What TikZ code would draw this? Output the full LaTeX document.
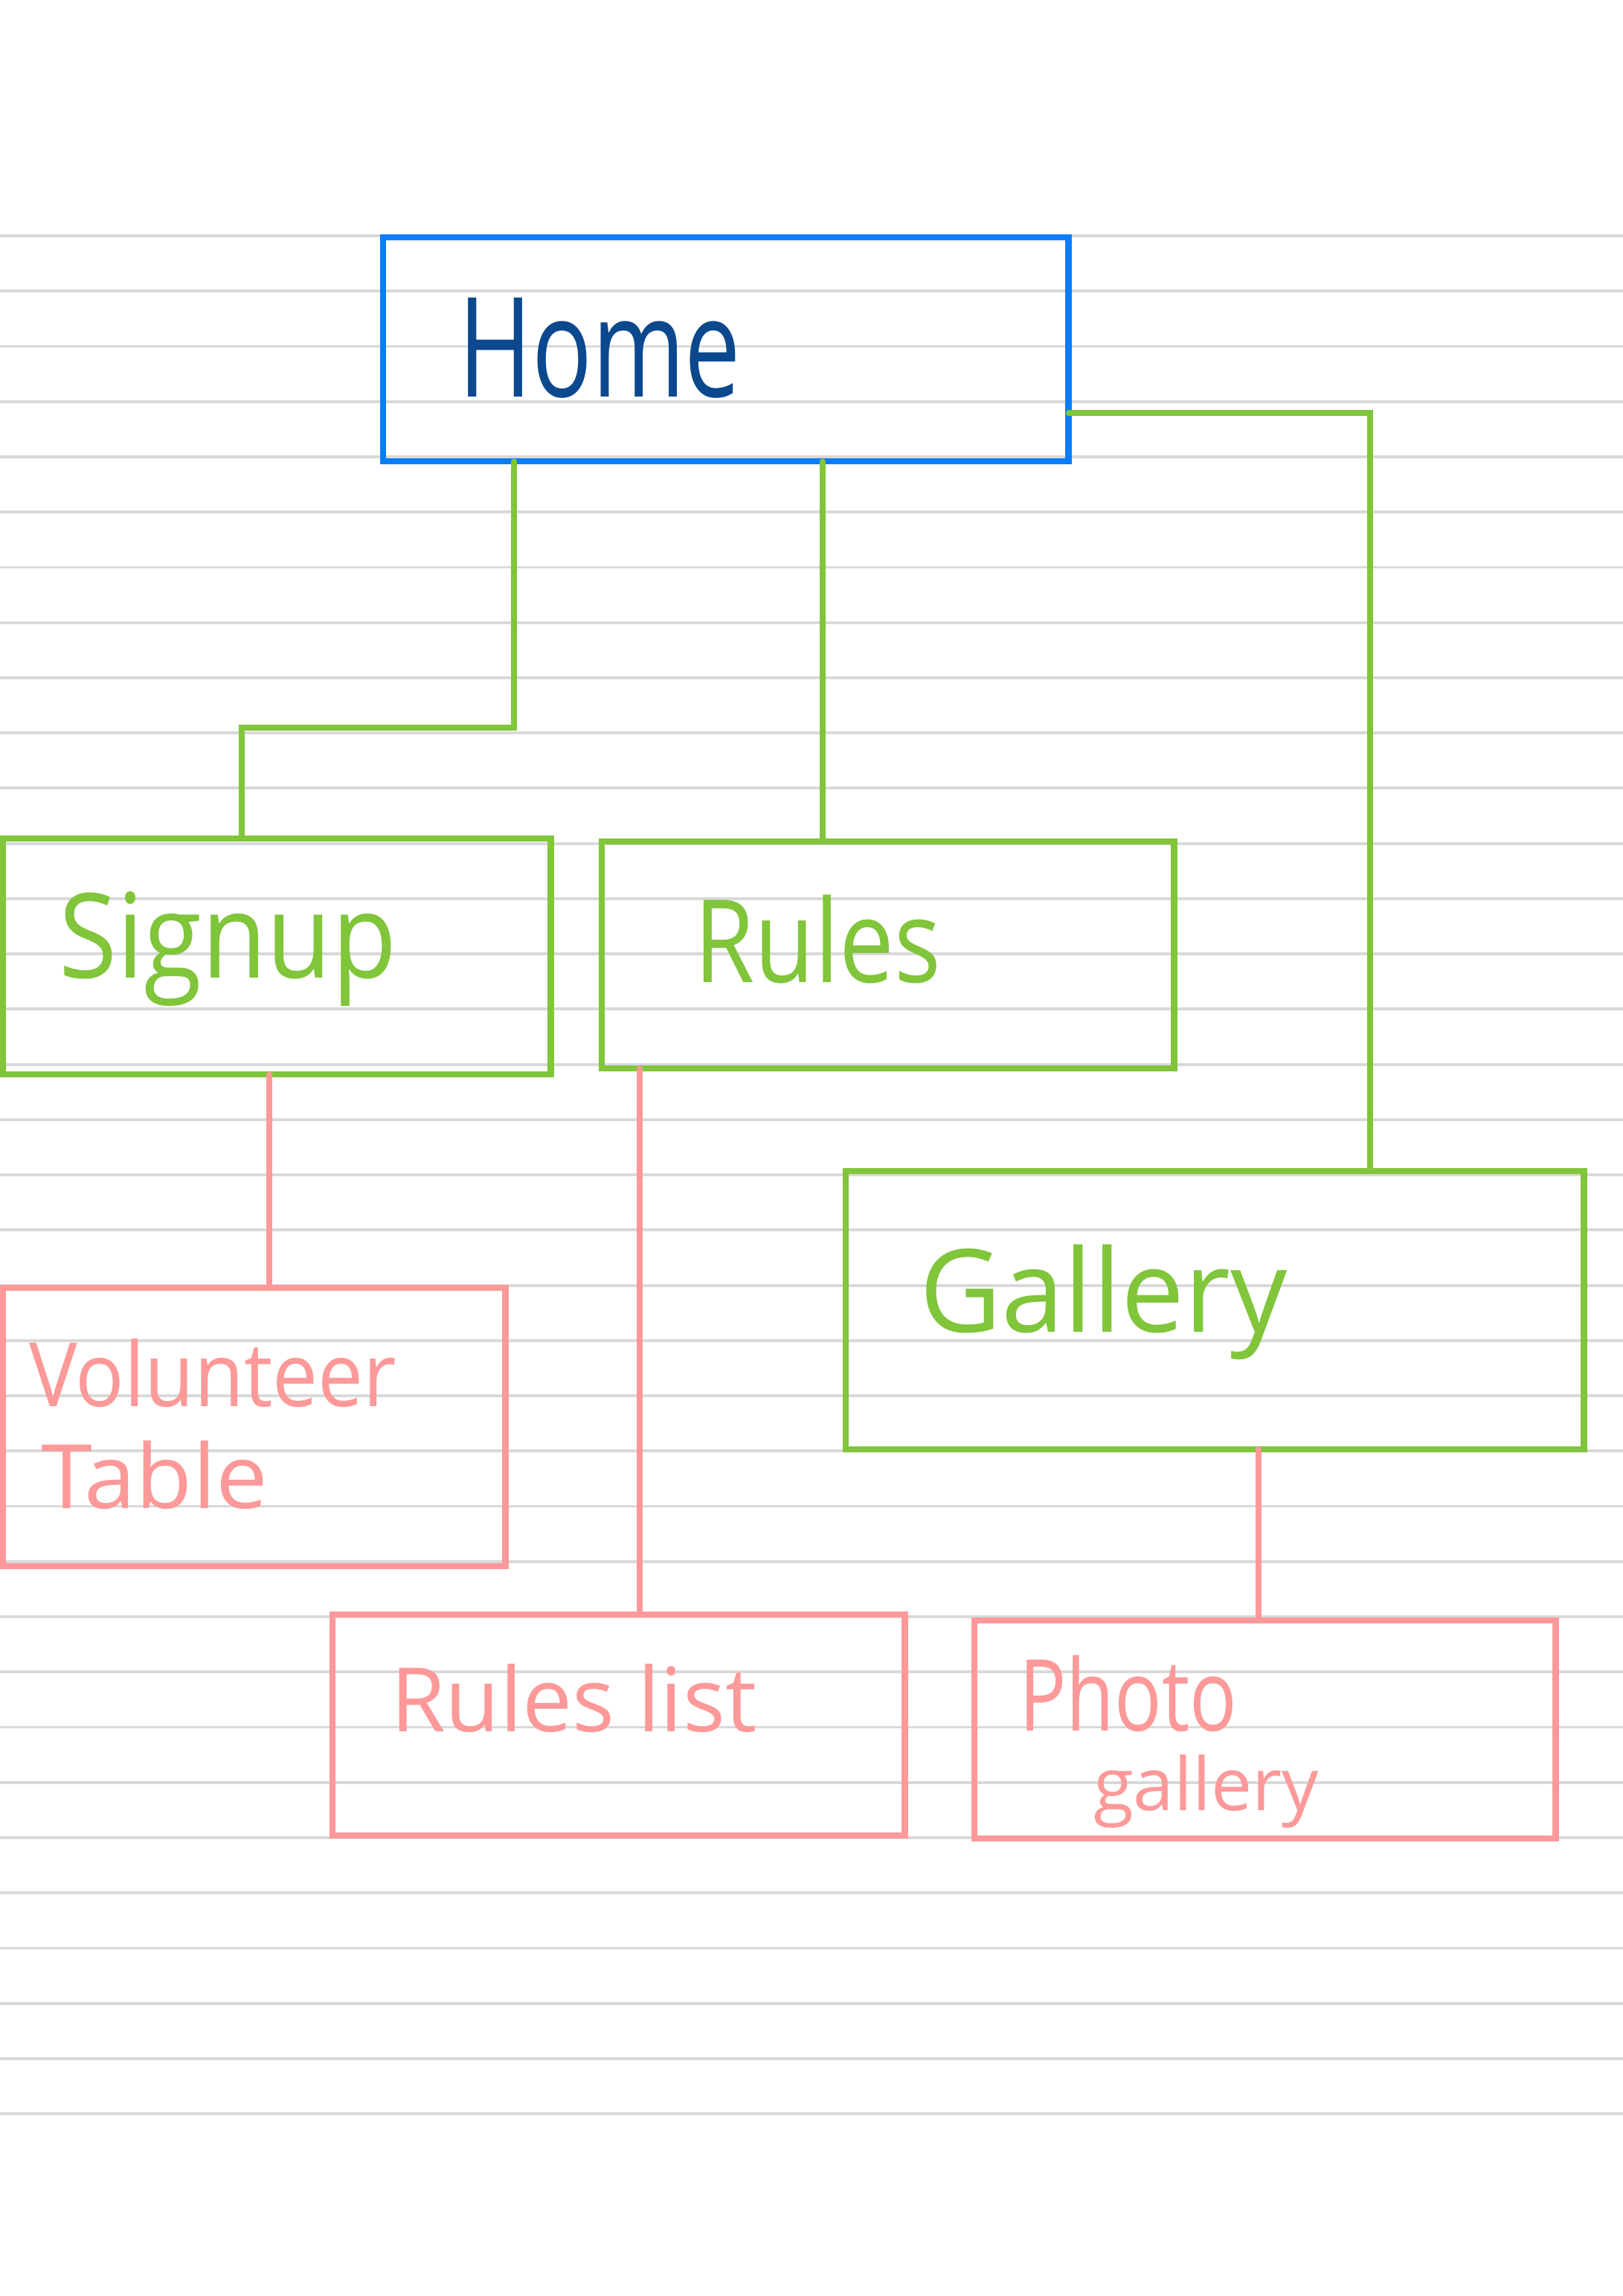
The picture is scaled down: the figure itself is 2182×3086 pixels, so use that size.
\documentclass[tikz,border=0pt]{standalone}
\usepackage{fontspec}
\setmainfont{Open Sans}
\usepackage{graphicx}
\definecolor{rule}{RGB}{217,217,217}
\definecolor{boxblue}{RGB}{10,125,250}
\definecolor{boxgreen}{RGB}{128,197,58}
\definecolor{boxpink}{RGB}{253,153,153}
\definecolor{inkblue}{RGB}{11,72,142}
\tikzset{
  pagebox/.style={draw, line width=2.4pt, inner sep=0pt, outer sep=0pt, anchor=north west},
  label/.style={inner sep=0pt, outer sep=0pt, anchor=base west},
  link/.style={line width=2.1pt, line cap=round, line join=miter},
}
\begin{document}
\begin{tikzpicture}[x=0.01cm, y=-0.01cm]
  % page
  \fill[white] (0,0) rectangle (2182,3086);
  \useasboundingbox (0,0) rectangle (2182,3086);
  % ruled notebook lines
  \foreach \i in {0,...,34} {
    \draw[rule, line width=1.1pt] (0,317+74.24*\i) -- (2182,317+74.24*\i);
  }

  % boxes
  \node[pagebox, draw=boxblue,  minimum width=9.21cm, minimum height=3.01cm] (home)    at (515,319)  {};
  \node[pagebox, draw=boxgreen, minimum width=7.36cm, minimum height=3.17cm] (signup)  at (4,1127)   {};
  \node[pagebox, draw=boxgreen, minimum width=7.69cm, minimum height=3.05cm] (rules)   at (809,1131) {};
  \node[pagebox, draw=boxgreen, minimum width=9.92cm, minimum height=3.74cm] (gallery) at (1137,1574) {};
  \node[pagebox, draw=boxpink,  minimum width=6.75cm, minimum height=3.74cm] (vol)     at (4,1731)   {};
  \node[pagebox, draw=boxpink,  minimum width=7.69cm, minimum height=2.97cm] (rlist)   at (447,2170) {};
  \node[pagebox, draw=boxpink,  minimum width=7.81cm, minimum height=2.93cm] (photo)   at (1310,2178) {};

  % labels
  \node[label, text=inkblue]  (homeT)    at (616,533)  {\scalebox{0.72}[1]{\fontsize{53}{60}\selectfont Home}};
  \node[label, text=boxgreen] (signupT)  at (79,1314)  {\scalebox{0.9}[1]{\fontsize{45}{50}\selectfont Signup}};
  \node[label, text=boxgreen] (rulesT)   at (933,1320) {\scalebox{0.85}[1]{\fontsize{44}{50}\selectfont Rules}};
  \node[label, text=boxgreen] (galleryT) at (1236,1790) {\scalebox{0.98}[1]{\fontsize{44}{50}\selectfont Gallery}};
  \node[label, text=boxpink]  (volT)     at (39,1890)  {\scalebox{0.91}[1]{\fontsize{34}{40}\selectfont Volunteer}};
  \node[label, text=boxpink]  (tableT)   at (55,2027)  {\scalebox{1.04}[1]{\fontsize{34}{40}\selectfont Table}};
  \node[label, text=boxpink]  (rlistT)   at (525,2327) {\scalebox{1.0}[1]{\fontsize{34}{40}\selectfont Rules list}};
  \node[label, text=boxpink]  (photoT)   at (1370,2326) {\scalebox{0.79}[1]{\fontsize{38}{44}\selectfont Photo}};
  \node[label, text=boxpink]  (galT)     at (1470,2433) {\scalebox{1.0}[1]{\fontsize{28}{34}\selectfont gallery}};

  % connectors
  \draw[link, boxgreen] (691,0 |- home.south) -- (691,978) -| (325,0 |- signup.north);
  \draw[link, boxgreen] (1106,0 |- home.south) -- (1106,0 |- rules.north);
  \draw[link, boxgreen] (home.east |- 0,555) -| (1842,0 |- gallery.north);
  \draw[link, boxpink]  (362,0 |- signup.south) -- (362,0 |- vol.north);
  \draw[link, boxpink]  (860,0 |- rules.south) -- (860,0 |- rlist.north);
  \draw[link, boxpink]  (1692,0 |- gallery.south) -- (1692,0 |- photo.north);
\end{tikzpicture}
\end{document}
